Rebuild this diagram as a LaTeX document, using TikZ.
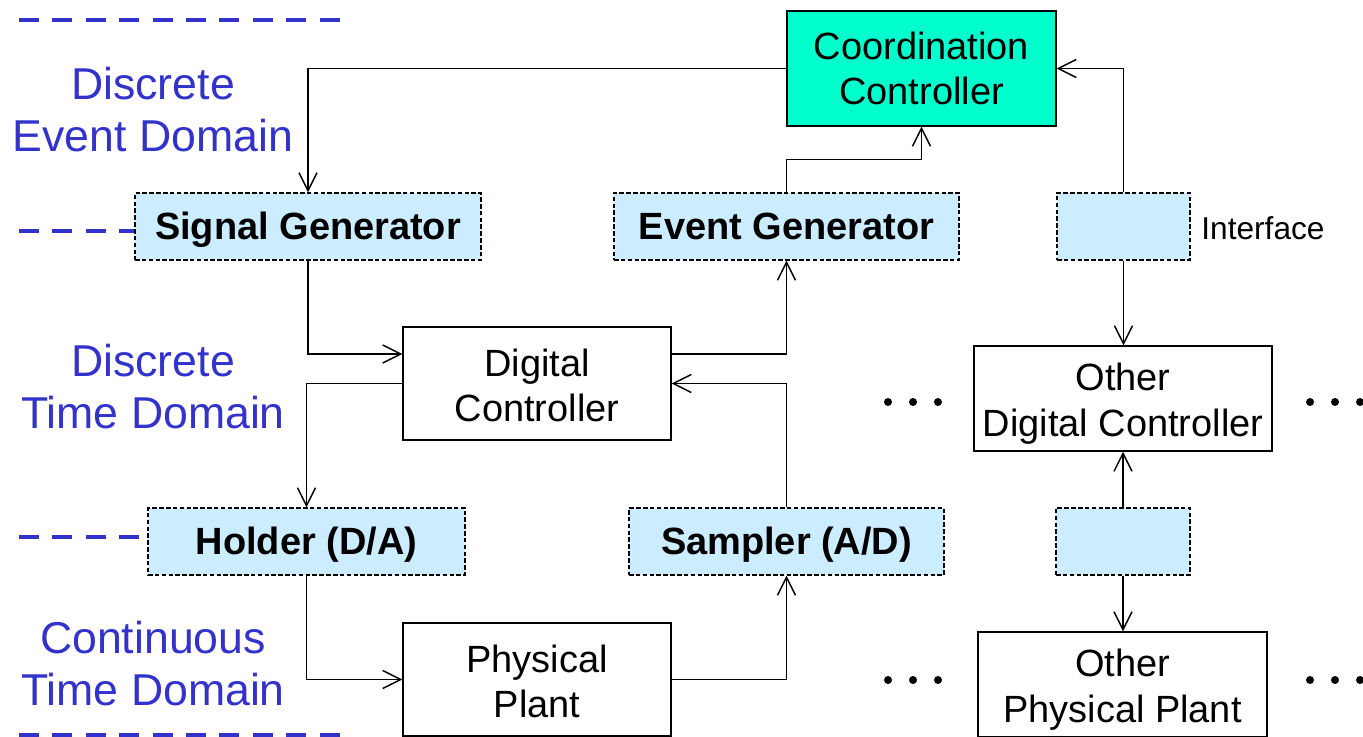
\documentclass[tikz,border=0pt]{standalone}
\usepackage{fontspec}
\setmainfont{Liberation Sans}
\usetikzlibrary{arrows.meta}

\definecolor{domblue}{RGB}{51,51,204}
\definecolor{ifblue}{RGB}{204,236,255}
\definecolor{coordgreen}{RGB}{0,255,204}

\begin{document}
\begin{tikzpicture}[
    >={Straight Barb[length=1.8mm,width=1.8mm]},
    box/.style={draw, fill=white, inner sep=0pt, align=center,
      font=\fontsize{10.8}{13}\selectfont},
    iface/.style={draw, fill=ifblue, dash pattern=on 1.3pt off 0.65pt,
      inner sep=0pt, align=center, minimum height=0.67cm,
      text height=0.72em, text depth=0pt,
      font=\bfseries\fontsize{10.8}{13}\selectfont},
    domlabel/.style={text=domblue, align=center,
      font=\fontsize{12.7}{14.8}\selectfont},
    domline/.style={domblue, line width=1.3pt, dash pattern=on 0.2cm off 0.134cm}
  ]
  \useasboundingbox (0,0) rectangle (13.63,-7.36);

  % domain labels
  \node [domlabel] (ded) at (1.53,-1.10) {Discrete\\Event Domain};
  \node [domlabel] (dtd) at (1.53,-3.87) {Discrete\\Time Domain};
  \node [domlabel] (ctd) at (1.53,-6.64) {Continuous\\Time Domain};

  % blocks
  \node [box, fill=coordgreen, minimum width=2.69cm, minimum height=1.15cm]
    (coord) at (9.215,-0.685) {Coordination\\Controller};
  \node [iface, minimum width=3.46cm] (siggen) at (3.08,-2.265) {Signal Generator};
  \node [iface, minimum width=3.45cm] (evgen) at (7.865,-2.265) {Event Generator};
  \node [iface, minimum width=1.33cm] (ifup) at (11.235,-2.265) {};
  \node [right=0pt, font=\fontsize{9}{11}\selectfont] (iflabel) at (11.89,-2.28) {Interface};

  \node [box, minimum width=2.68cm, minimum height=1.13cm]
    (digital) at (5.37,-3.835) {\rule{0pt}{9pt}Digital\\Controller};
  \node [box, minimum width=2.98cm, minimum height=1.05cm]
    (otherdig) at (11.23,-3.985) {\rule{0pt}{10.9pt}Other\\Digital Controller};

  \node [iface, minimum width=3.17cm] (holder) at (3.065,-5.415) {Holder (D/A)};
  \node [iface, minimum width=3.15cm] (sampler) at (7.865,-5.415) {Sampler (A/D)};
  \node [iface, minimum width=1.34cm] (ifdown) at (11.23,-5.415) {};

  \node [box, minimum width=2.68cm, minimum height=1.13cm]
    (plant) at (5.37,-6.795) {\rule{0pt}{9pt}Physical\\Plant};
  \node [box, minimum width=2.89cm, minimum height=1.05cm]
    (otherplant) at (11.225,-6.845) {\rule{0pt}{10.9pt}Other\\Physical Plant};

  % dashed domain borders
  \coordinate (b0) at (0.19,-0.20);
  \coordinate (b1) at (3.41,-0.20);
  \coordinate (b2) at (0.19,-2.31);
  \coordinate (b3) at (0.19,-5.37);
  \coordinate (b4) at (0.19,-7.35);
  \coordinate (b5) at (3.41,-7.35);
  \draw [domline] (b0) -- (b1);
  \draw [domline] (b2) -- (b2 -| siggen.west);
  \draw [domline] (b3) -- (b3 -| holder.west);
  \draw [domline] (b4) -- (b5);

  % signal flow
  \draw [->] (coord.west) -| (siggen.north);
  \draw [->] (evgen.north) -- ++(0,0.33) -| (coord.south);
  \draw [->] (ifup.north) |- (coord.east);
  \draw [->] (ifup.south) -- (otherdig.north -| ifup.south);
  \draw [->] (siggen.south) |- ([yshift=2.95mm]digital.west);
  \draw [->] (digital.west) -| (holder.north);
  \draw [->] ([yshift=2.95mm]digital.east) -| (evgen.south);
  \draw [->] (sampler.north) |- (digital.east);
  \draw [->] (holder.south) |- (plant.west);
  \draw [->] (plant.east) -| (sampler.south);
  \draw [->] (ifdown.north) -- (otherdig.south -| ifdown.north);
  \draw [->] (ifdown.south) -- (otherplant.north -| ifdown.south);

  % more controllers and plants
  \foreach \y in {-4.02,-6.80} {
    \foreach \x in {8.88,9.13,9.38,13.10,13.35,13.60}
      \fill (\x,\y) circle [radius=0.04];
  }
\end{tikzpicture}
\end{document}
